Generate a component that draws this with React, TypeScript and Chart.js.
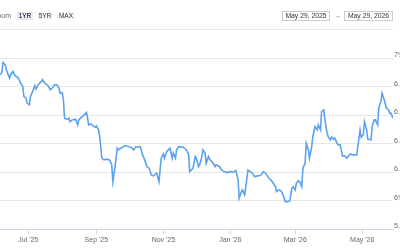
import React, { useEffect, useRef } from "react";
import { Chart, registerables } from "chart.js";

Chart.register(...registerables);

// Days since 2025-05-29 (start of the 1YR window)
const dayOffsets = [
  0, 4, 7, 9, 10, 12, 13, 16, 17, 19, 21, 24, 26, 28, 29, 31, 32, 34, 35, 37, 39, 40, 42, 45, 46, 48, 51, 53, 55, 57, 59, 61, 62, 64, 65, 66, 68, 70, 71, 73, 76, 78, 79, 81, 83, 86, 87, 88, 90, 92, 94, 95, 97, 98,
  100, 102, 104, 107, 109, 110, 112, 114, 115, 117, 119, 121, 124, 127, 129, 131, 133, 135, 137, 139, 141, 143, 145, 147, 150, 152, 154, 156, 157, 159, 162, 164, 165, 167, 168, 170, 174, 177, 179, 180, 183, 185, 186, 188, 189,
  191, 192, 194, 195, 197, 198, 200, 201, 203, 204, 207, 209, 211, 214, 217, 220, 222, 224, 225, 227, 228, 230, 231, 233, 235, 237, 239, 242, 245, 247, 249, 251, 253, 255, 256, 258, 259, 261, 263, 265, 267, 269, 271, 273, 274, 276, 277, 279, 280,
  282, 283, 285, 286, 288, 289, 291, 292, 294, 296, 297, 299, 300, 302, 303, 305, 306, 308, 309, 311, 312, 314, 315, 317, 319, 321, 323, 326, 329, 332, 333, 335, 336, 338, 339, 341, 342, 345, 346, 348, 349, 351, 352, 354, 355, 357, 359, 361, 362, 363, 365,
];

// Rate (%)
const rates = [
  6.88, 6.85, 6.883, 6.899, 6.969, 6.953, 6.918, 6.86, 6.883, 6.906, 6.876, 6.86, 6.825, 6.801, 6.731, 6.719, 6.684, 6.672, 6.731, 6.766, 6.806, 6.783, 6.813, 6.836, 6.848, 6.825, 6.806, 6.778, 6.79, 6.813, 6.813, 6.79, 6.754, 6.754, 6.708, 6.579, 6.572, 6.579, 6.555, 6.567, 6.572, 6.532, 6.567, 6.583, 6.595, 6.619, 6.579, 6.532, 6.539, 6.525, 6.516, 6.525, 6.497, 6.45,
  6.299, 6.287, 6.292, 6.287, 6.252, 6.135, 6.24, 6.369, 6.357, 6.369, 6.376, 6.387, 6.38, 6.373, 6.357, 6.38, 6.376, 6.38, 6.322, 6.287, 6.24, 6.229, 6.182, 6.175, 6.194, 6.135, 6.299, 6.329, 6.299, 6.345, 6.369, 6.299, 6.334, 6.299, 6.357, 6.38, 6.376, 6.357, 6.322, 6.205, 6.229, 6.31, 6.299, 6.24, 6.252,
  6.31, 6.357, 6.334, 6.264, 6.31, 6.292, 6.275, 6.268, 6.24, 6.252, 6.24, 6.217, 6.205, 6.198, 6.205, 6.201, 6.212, 6.147, 6.019, 6.065, 6.077, 6.042, 6.1, 6.217, 6.205, 6.194, 6.17, 6.175, 6.182, 6.205, 6.194, 6.17, 6.152, 6.135, 6.124, 6.1, 6.065, 6.077, 6.072, 6.042, 5.995, 5.995, 6.0, 6.089, 6.1, 6.077, 6.124, 6.142, 6.135,
  6.1, 6.229, 6.264, 6.404, 6.357, 6.299, 6.38, 6.45, 6.52, 6.497, 6.532, 6.497, 6.626, 6.637, 6.567, 6.474, 6.45, 6.427, 6.446, 6.432, 6.439, 6.404, 6.392, 6.392, 6.315, 6.315, 6.299, 6.329, 6.322, 6.322, 6.38, 6.497, 6.446, 6.462, 6.555, 6.497, 6.432, 6.427, 6.52, 6.567, 6.567, 6.532, 6.649, 6.696, 6.755, 6.708, 6.649, 6.637, 6.614, 6.614, 6.579,
];

// Month tick positions (days since 2025-05-29) and their labels
const tickDays = [33, 95, 156, 217, 276, 337];
const tickLabels = ["Jul '25", "Sep '25", "Nov '25", "Jan '26", "Mar '26", "May '26"];

const rangeButtons = ["1YR", "5YR", "MAX"];
const fromDate = "May 29, 2025";
const toDate = "May 29, 2026";

const FONT = "'Liberation Sans', Arial, Helvetica, sans-serif";

export default function App() {
  const canvasRef = useRef<HTMLCanvasElement | null>(null);

  useEffect(() => {
    const canvas = canvasRef.current;
    if (!canvas) return;
    const chart = new Chart(canvas, {
      type: "line",
      data: {
        datasets: [
          {
            data: dayOffsets.map((d, i) => ({ x: d, y: rates[i] })),
            borderColor: "#5aa2f1",
            borderWidth: 1.6,
            pointRadius: 0,
            tension: 0,
            fill: false,
          },
        ],
      },
      options: {
        animation: false,
        responsive: false,
        maintainAspectRatio: false,
        layout: { padding: { top: 58, left: 0, right: 0, bottom: 0 } },
        plugins: { legend: { display: false }, tooltip: { enabled: false } },
        scales: {
          x: {
            type: "linear",
            position: "bottom",
            min: 0,
            max: 365,
            afterBuildTicks: (scale: any) => {
              scale.ticks = tickDays.map((v) => ({ value: v }));
            },
            afterFit: (scale: any) => {
              scale.height = 20.5;
            },
            ticks: {
              autoSkip: false,
              maxRotation: 0,
              padding: 1,
              color: "#666666",
              font: { family: FONT, size: 7 },
              callback: (v: any) => {
                const i = tickDays.indexOf(Number(v));
                return i >= 0 ? tickLabels[i] : "";
              },
            },
            grid: {
              drawOnChartArea: false,
              drawTicks: true,
              tickLength: 5,
              color: "#ccd6eb",
            },
            border: { color: "#ccd6eb", width: 1 },
          },
          y: {
            position: "right",
            min: 5.8,
            max: 7.0,
            afterFit: (scale: any) => {
              scale.width = 40;
            },
            ticks: {
              stepSize: 0.2,
              padding: 1,
              labelOffset: -3,
              color: "#666666",
              font: { family: FONT, size: 7 },
              callback: (v: any) => `${Number(Number(v).toFixed(1))}%`,
            },
            grid: { color: "#e6e6e6", drawTicks: false },
            border: { display: false },
          },
        },
      },
    } as any);
    return () => chart.destroy();
  }, []);

  const btnLeft = [17, 37, 57];
  const btnWidth = [16, 16, 18];

  return (
    <div
      style={{
        position: "fixed",
        left: 0,
        top: 0,
        width: 400,
        height: 250,
        overflow: "hidden",
        background: "#ffffff",
        fontFamily: FONT,
      }}
    >
      <canvas
        ref={canvasRef}
        width={441}
        height={250}
        style={{ position: "absolute", left: -8, top: 0, width: 441, height: 250 }}
      />
      <div
        style={{
          position: "absolute",
          right: 389,
          top: 12,
          fontSize: 7,
          lineHeight: "8px",
          color: "#666666",
          whiteSpace: "nowrap",
        }}
      >
        Zoom
      </div>
      {rangeButtons.map((b, i) => (
        <div
          key={b}
          style={{
            position: "absolute",
            left: btnLeft[i],
            top: 12,
            width: btnWidth[i],
            height: 8,
            lineHeight: "8px",
            fontSize: 6.5,
            textAlign: "center",
            background: i === 0 ? "#e6ebf5" : "#f7f7f7",
            color: i === 0 ? "#000000" : "#333333",
          }}
        >
          {b}
        </div>
      ))}
      <div
        style={{
          position: "absolute",
          left: 282,
          top: 11,
          width: 46,
          height: 8,
          lineHeight: "8px",
          border: "1px solid #cccccc",
          fontSize: 6.8,
          textAlign: "center",
          color: "#333333",
          whiteSpace: "nowrap",
        }}
      >
        {fromDate}
      </div>
      <div
        style={{
          position: "absolute",
          left: 334,
          top: 11,
          width: 8,
          height: 10,
          lineHeight: "10px",
          fontSize: 6,
          textAlign: "center",
          color: "#333333",
        }}
      >
        →
      </div>
      <div
        style={{
          position: "absolute",
          left: 344,
          top: 11,
          width: 47,
          height: 8,
          lineHeight: "8px",
          border: "1px solid #cccccc",
          fontSize: 6.8,
          textAlign: "center",
          color: "#333333",
          whiteSpace: "nowrap",
        }}
      >
        {toDate}
      </div>
      <div
        style={{
          position: "absolute",
          left: 0,
          top: 29,
          width: 393,
          height: 1,
          background: "#e6e6e6",
        }}
      />
    </div>
  );
}
